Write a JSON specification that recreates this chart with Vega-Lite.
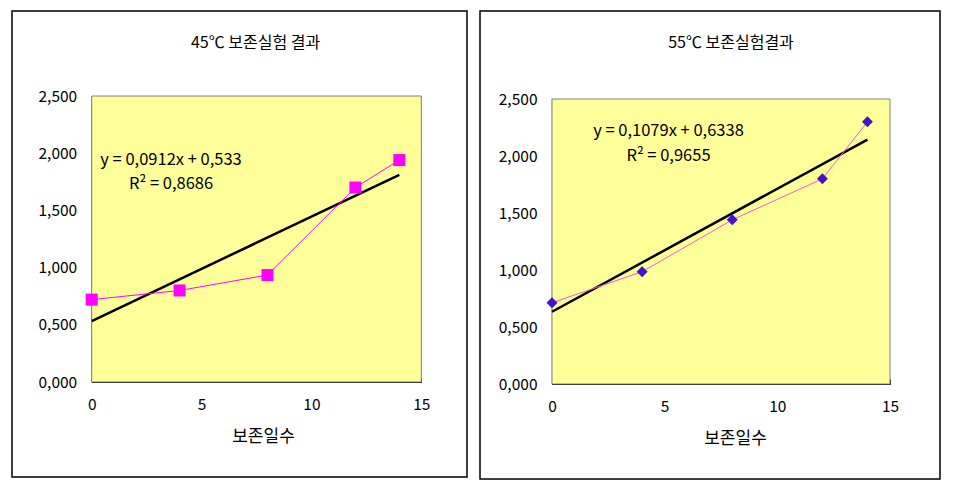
{
  "$schema": "https://vega.github.io/schema/vega-lite/v6.json",
  "padding": {"left": 11, "top": 10, "right": 0, "bottom": 0},
  "background": "white",
  "spacing": 11,
  "config": {
    "view": {"stroke": "black", "strokeWidth": 1.5, "fill": "white"},
    "font": "Noto Sans CJK KR",
    "axis": {"labelColor": "black", "domainColor": "black", "tickColor": "black", "titleColor": "black", "grid": false, "labelFontSize": 15.5, "titleFontSize": 17, "titleFontWeight": "normal", "tickSize": -5, "tickWidth": 1, "domainWidth": 1.2, "labelFlush": false}
  },
  "datasets": {
    "d45": [
      {"day": 0, "v": 0.72},
      {"day": 4, "v": 0.80},
      {"day": 8, "v": 0.935},
      {"day": 12, "v": 1.70},
      {"day": 14, "v": 1.94}
    ],
    "t45": [
      {"day": 0, "v": 0.533},
      {"day": 14, "v": 1.810}
    ],
    "d55": [
      {"day": 0, "v": 0.713},
      {"day": 4, "v": 0.985},
      {"day": 8, "v": 1.44},
      {"day": 12, "v": 1.80},
      {"day": 14, "v": 2.30}
    ],
    "t55": [
      {"day": 0, "v": 0.634},
      {"day": 14, "v": 2.144}
    ]
  },
  "hconcat": [
    {
      "width": 455,
      "height": 466,
      "title": {"text": "45℃ 보존실험 결과", "offset": -48, "dx": 16, "fontSize": 16, "fontWeight": "normal", "baseline": "middle", "color": "black"},
      "layer": [
        {
          "data": {"values": [{}]},
          "mark": {"type": "rect", "fill": "#FFFF99", "stroke": "#808080", "strokeWidth": 1},
          "encoding": {
            "x": {"datum": 0, "type": "quantitative", "scale": {"domain": [0, 15], "range": [79.7, 409.3], "nice": false, "zero": false},
                  "axis": {"values": [0, 5, 10, 15], "title": "보존일수", "offset": -95, "labelPadding": 20, "titlePadding": 16, "titleX": 251}},
            "x2": {"datum": 15},
            "y": {"datum": 0, "type": "quantitative", "scale": {"domain": [0, 2.5], "range": [371, 85], "nice": false, "zero": false},
                  "axis": {"values": [0, 0.5, 1, 1.5, 2, 2.5], "labelExpr": "replace(format(datum.value,'.3f'),'.',',')", "title": null, "offset": -79.7, "labelPadding": 20}},
            "y2": {"datum": 2.5}
          }
        },
        {
          "data": {"name": "t45"},
          "mark": {"type": "line", "color": "black", "strokeWidth": 2.5},
          "encoding": {"x": {"field": "day", "type": "quantitative"}, "y": {"field": "v", "type": "quantitative"}}
        },
        {
          "data": {"name": "d45"},
          "mark": {"type": "line", "color": "#FF00FF", "strokeWidth": 1},
          "encoding": {"x": {"field": "day", "type": "quantitative"}, "y": {"field": "v", "type": "quantitative"}}
        },
        {
          "data": {"name": "d45"},
          "mark": {"type": "square", "color": "#FF00FF", "size": 144, "filled": true, "opacity": 1},
          "encoding": {"x": {"field": "day", "type": "quantitative"}, "y": {"field": "v", "type": "quantitative"}}
        },
        {
          "data": {"values": [{}]},
          "mark": {"type": "text", "fontSize": 16.5, "align": "center", "baseline": "middle", "lineHeight": 24, "color": "black", "text": ["y = 0,0912x + 0,533", "R² = 0,8686"]},
          "encoding": {"x": {"datum": 3.61, "type": "quantitative"}, "y": {"datum": 1.94, "type": "quantitative"}}
        }
      ]
    },
    {
      "width": 460,
      "height": 468,
      "title": {"text": "55℃ 보존실험결과", "offset": -48, "dx": 21, "fontSize": 16, "fontWeight": "normal", "baseline": "middle", "color": "black"},
      "layer": [
        {
          "data": {"values": [{}]},
          "mark": {"type": "rect", "fill": "#FFFF99", "stroke": "#808080", "strokeWidth": 1},
          "encoding": {
            "x": {"datum": 0, "type": "quantitative", "scale": {"domain": [0, 15], "range": [72, 410], "nice": false, "zero": false},
                  "axis": {"values": [0, 5, 10, 15], "title": "보존일수", "offset": -95, "labelPadding": 20, "titlePadding": 16, "titleX": 255}},
            "x2": {"datum": 15},
            "y": {"datum": 0, "type": "quantitative", "scale": {"domain": [0, 2.5], "range": [373, 88], "nice": false, "zero": false},
                  "axis": {"values": [0, 0.5, 1, 1.5, 2, 2.5], "labelExpr": "replace(format(datum.value,'.3f'),'.',',')", "title": null, "offset": -72, "labelPadding": 20}},
            "y2": {"datum": 2.5}
          }
        },
        {
          "data": {"name": "t55"},
          "mark": {"type": "line", "color": "black", "strokeWidth": 2.5},
          "encoding": {"x": {"field": "day", "type": "quantitative"}, "y": {"field": "v", "type": "quantitative"}}
        },
        {
          "data": {"name": "d55"},
          "mark": {"type": "line", "color": "#FF55CC", "strokeWidth": 1},
          "encoding": {"x": {"field": "day", "type": "quantitative"}, "y": {"field": "v", "type": "quantitative"}}
        },
        {
          "data": {"name": "d55"},
          "mark": {"type": "point", "shape": "diamond", "color": "#4411CC", "size": 120, "filled": true, "opacity": 1},
          "encoding": {"x": {"field": "day", "type": "quantitative"}, "y": {"field": "v", "type": "quantitative"}}
        },
        {
          "data": {"values": [{}]},
          "mark": {"type": "text", "fontSize": 16.5, "align": "center", "baseline": "middle", "lineHeight": 25, "color": "black", "text": ["y = 0,1079x + 0,6338", "R² = 0,9655"]},
          "encoding": {"x": {"datum": 5.17, "type": "quantitative"}, "y": {"datum": 2.215, "type": "quantitative"}}
        }
      ]
    }
  ]
}
